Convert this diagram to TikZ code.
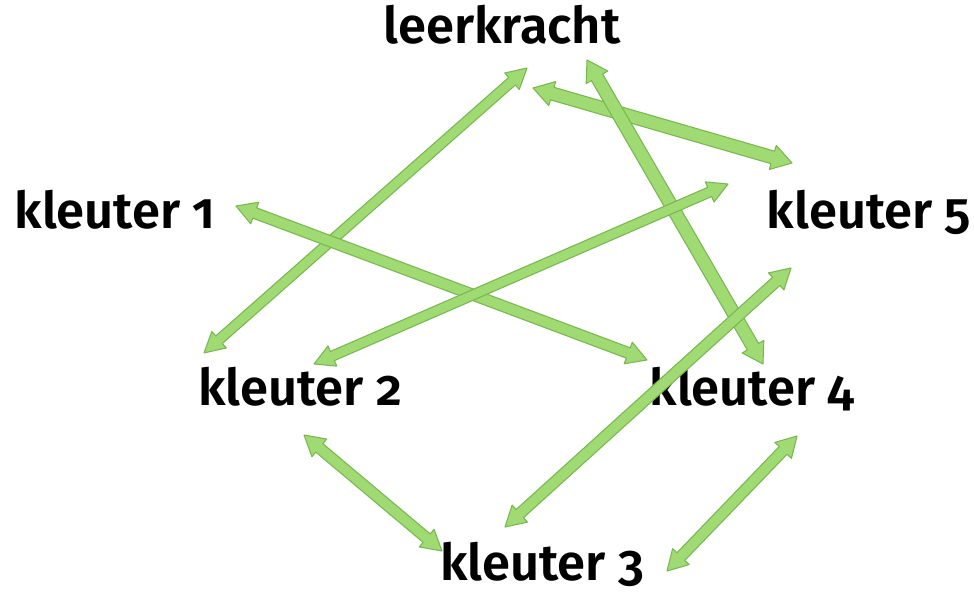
\documentclass[tikz,border=0pt]{standalone}
\usepackage{fontspec}
\setmainfont{Fira Sans}[Numbers=OldStyle, BoldFont={Fira Sans SemiBold}]
\definecolor{agreen}{RGB}{160,218,115}
\definecolor{aedge}{RGB}{122,182,82}
\tikzset{
  lbl/.style={font=\fontsize{38}{40}\selectfont\bfseries, text=black, anchor=base, inner sep=0pt},
  blockarrow/.style={fill=agreen, draw=aedge, line width=0.8pt, line join=round},
}
% double headed block arrow between two named points; [half shaft]{half head} (px)
\newcommand\barrow[4][5]{%
  \path (#3); \pgfgetlastxy{\ax}{\ay}%
  \path (#4); \pgfgetlastxy{\bx}{\by}%
  \pgfmathsetmacro\ang{atan2(\by-\ay,\bx-\ax)}%
  \pgfmathsetmacro\len{veclen(\bx-\ax,\by-\ay)}%
  \pgfmathsetmacro\s{#1*0.75}%
  \pgfmathsetmacro\H{#2*0.75}%
  \pgfmathsetmacro\h{15}%
  \pgfmathsetmacro\e{\len-\h}%
  \begin{scope}[shift={(#3)},rotate=\ang]
    \path[blockarrow] (0pt,0pt) -- (\h pt,\H pt) -- (\h pt,\s pt) -- (\e pt,\s pt) -- (\e pt,\H pt)
      -- (\len pt,0pt) -- (\e pt,-\H pt) -- (\e pt,-\s pt) -- (\h pt,-\s pt) -- (\h pt,-\H pt) -- cycle;
  \end{scope}%
}
\begin{document}
\begin{tikzpicture}[x=0.75pt,y=-0.75pt]
\useasboundingbox (0,0) rectangle (974,600);
% labels
\node[lbl] (lk) at (502,43) {leerkracht};
\node[lbl] (k1) at (115,228) {kleuter 1};
\node[lbl] (k5) at (869,228) {kleuter 5};
\node[lbl] (k2) at (300,405) {kleuter 2};
\node[lbl] (k4) at (752,405) {kleuter 4};
\node[lbl] (k3) at (542,580) {kleuter 3};
% arrow end points
\coordinate (a1s) at (527,68);  \coordinate (a1e) at (204,353);
\coordinate (a2s) at (533,88);  \coordinate (a2e) at (792,163);
\coordinate (a3s) at (587,60);  \coordinate (a3e) at (763,364);
\coordinate (a4s) at (236,206); \coordinate (a4e) at (647,360);
\coordinate (a5s) at (728,184); \coordinate (a5e) at (314,364);
\coordinate (a6s) at (791,268); \coordinate (a6e) at (505,527);
\coordinate (a7s) at (304,435); \coordinate (a7e) at (442,551);
\coordinate (a8s) at (797,436); \coordinate (a8e) at (667,571);
% arrows
\barrow[5]{11}{a1s}{a1e}
\barrow[6.5]{12.5}{a2s}{a2e}
\barrow[6.5]{12.5}{a3s}{a3e}
\barrow[5.5]{11.5}{a4s}{a4e}
\barrow[5]{11}{a5s}{a5e}
\barrow[5.5]{11.5}{a6s}{a6e}
\barrow[5.5]{11.5}{a7s}{a7e}
\barrow[5.5]{11.5}{a8s}{a8e}
\end{tikzpicture}
\end{document}
